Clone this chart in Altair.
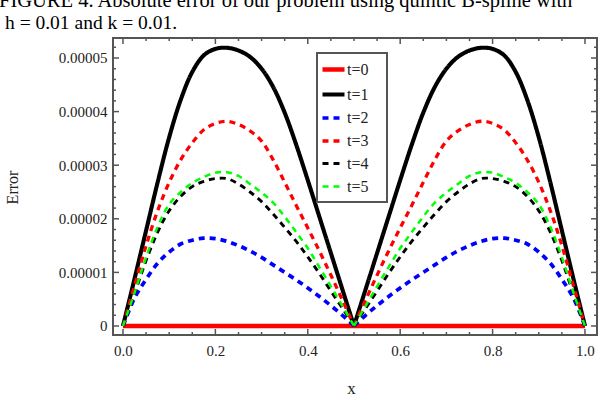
import altair as alt
import pandas as pd

# Caption above the figure
CAPTION_1 = "FIGURE 4.  Absolute error of our problem using quintic B-spline with"
CAPTION_2 = "h = 0.01 and k = 0.01."

# Grid of x positions (step 0.025)
x_pos = [0.0, 0.025, 0.05, 0.075, 0.1, 0.125, 0.15, 0.175, 0.2, 0.225, 0.25,
         0.275, 0.3, 0.325, 0.35, 0.375, 0.4, 0.425, 0.45, 0.475, 0.5,
         0.525, 0.55, 0.575, 0.6, 0.625, 0.65, 0.675, 0.7, 0.725, 0.75,
         0.775, 0.8, 0.825, 0.85, 0.875, 0.9, 0.925, 0.95, 0.975, 1.0]

# Absolute error, in units of 1e-5
err_t0 = [0.0] * 41
err_t1 = [0, 0.88, 1.78, 2.68, 3.52, 4.22, 4.74, 5.05, 5.17, 5.19, 5.14,
          5.02, 4.80, 4.46, 3.98, 3.38, 2.72, 2.04, 1.36, 0.68, 0,
          0.68, 1.36, 2.04, 2.72, 3.38, 3.98, 4.46, 4.80, 5.02, 5.14,
          5.19, 5.17, 5.05, 4.74, 4.22, 3.52, 2.68, 1.78, 0.88, 0]
err_t2 = [0, 0.52, 0.87, 1.17, 1.38, 1.53, 1.60, 1.64, 1.63, 1.58, 1.50,
          1.40, 1.28, 1.14, 1.00, 0.86, 0.71, 0.55, 0.38, 0.20, 0,
          0.20, 0.38, 0.55, 0.71, 0.86, 1.00, 1.14, 1.28, 1.40, 1.50,
          1.58, 1.63, 1.64, 1.60, 1.53, 1.38, 1.17, 0.87, 0.52, 0]
err_t3 = [0, 0.75, 1.50, 2.15, 2.68, 3.10, 3.42, 3.66, 3.78, 3.82, 3.76,
          3.64, 3.45, 3.10, 2.68, 2.25, 1.83, 1.40, 0.95, 0.48, 0,
          0.48, 0.95, 1.40, 1.83, 2.25, 2.68, 3.10, 3.45, 3.64, 3.76,
          3.82, 3.78, 3.66, 3.42, 3.10, 2.68, 2.15, 1.50, 0.75, 0]
err_t4 = [0, 0.60, 1.22, 1.75, 2.15, 2.42, 2.60, 2.70, 2.75, 2.75, 2.65,
          2.50, 2.32, 2.09, 1.84, 1.58, 1.29, 0.98, 0.65, 0.33, 0,
          0.33, 0.65, 0.98, 1.29, 1.58, 1.84, 2.09, 2.32, 2.50, 2.65,
          2.75, 2.75, 2.70, 2.60, 2.42, 2.15, 1.75, 1.22, 0.60, 0]
err_t5 = [0, 0.62, 1.28, 1.85, 2.27, 2.50, 2.67, 2.78, 2.86, 2.87, 2.80,
          2.65, 2.49, 2.30, 2.04, 1.75, 1.45, 1.10, 0.74, 0.37, 0,
          0.37, 0.74, 1.10, 1.45, 1.75, 2.04, 2.30, 2.49, 2.65, 2.80,
          2.87, 2.86, 2.78, 2.67, 2.50, 2.27, 1.85, 1.28, 0.62, 0]

series_names = ["t=0", "t=1", "t=2", "t=3", "t=4", "t=5"]
series_values = [err_t0, err_t1, err_t2, err_t3, err_t4, err_t5]
UNIT = 1e-5

# Tick positions for the frame
x_major = [0.0, 0.2, 0.4, 0.6, 0.8, 1.0]
x_minor = [0.05, 0.1, 0.15, 0.25, 0.3, 0.35, 0.45, 0.5, 0.55, 0.65, 0.7,
           0.75, 0.85, 0.9, 0.95]
y_major = [0.0, 1e-5, 2e-5, 3e-5, 4e-5, 5e-5]
y_minor = [0.2e-5, 0.4e-5, 0.6e-5, 0.8e-5, 1.2e-5, 1.4e-5, 1.6e-5, 1.8e-5,
           2.2e-5, 2.4e-5, 2.6e-5, 2.8e-5, 3.2e-5, 3.4e-5, 3.6e-5, 3.8e-5,
           4.2e-5, 4.4e-5, 4.6e-5, 4.8e-5, 5.2e-5]

# Long table; each curve is split into its two humps at x = 0.5 so the
# cusp there stays sharp while each hump is drawn as a smooth spline.
rows = []
for name, vals in zip(series_names, series_values):
    for xv, ev in zip(x_pos, vals):
        if xv <= 0.5:
            rows.append({"x": xv, "err": ev * UNIT, "series": name, "part": name + "L"})
        if xv >= 0.5:
            rows.append({"x": xv, "err": ev * UNIT, "series": name, "part": name + "R"})
df = pd.DataFrame(rows)

W, H = 484, 297
FRAME = "#555555"
SERIF = "Liberation Serif"

xscale = alt.Scale(domain=[-0.0216, 1.026], nice=False, zero=False)
yscale = alt.Scale(domain=[-0.168e-5, 5.373e-5], nice=False, zero=False)

legend = alt.Legend(
    orient="none", legendX=207, legendY=18, title=None,
    symbolType="stroke", symbolSize=484, symbolStrokeWidth=3,
    labelFont=SERIF, labelFontSize=16, labelColor="#222222",
    rowPadding=2, labelOffset=0, padding=0,
)

lines = alt.Chart(df).mark_line(interpolate="catmull-rom", strokeCap="butt").encode(
    x=alt.X("x:Q", scale=xscale,
            axis=alt.Axis(values=x_major, format=".1f", title="x",
                          titleX=W / 2 - 4, titleY=53, titleBaseline="middle")),
    y=alt.Y("err:Q", scale=yscale,
            axis=alt.Axis(values=y_major, title="Error",
                          labelExpr="datum.value == 0 ? '0' : format(datum.value, '.5f')",
                          titleX=-101, titleY=149, titleBaseline="middle",
                          titleAlign="center")),
    color=alt.Color("series:N",
                    scale=alt.Scale(domain=series_names,
                                    range=["#ff0000", "#000000", "#0000ff",
                                           "#ff0000", "#000000", "#00ff00"]),
                    legend=legend),
    strokeDash=alt.StrokeDash("series:N",
                              scale=alt.Scale(domain=series_names,
                                              range=[[1, 0], [1, 0], [6, 5],
                                                     [6, 5], [6, 5], [6, 5]]),
                              legend=legend),
    strokeWidth=alt.StrokeWidth("series:N",
                                scale=alt.Scale(domain=series_names,
                                                range=[4.5, 2.5, 3, 3, 3, 3]),
                                legend=None),
    detail="part:N",
)

# Inward frame ticks on all four sides
def xticks(vals, length):
    d = pd.DataFrame({"p": vals})
    bottom = alt.Chart(d).mark_rule(color=FRAME, strokeWidth=1.5).encode(
        x=alt.X("p:Q", scale=xscale), y=alt.value(H), y2=alt.value(H - length))
    top = alt.Chart(d).mark_rule(color=FRAME, strokeWidth=1.5).encode(
        x=alt.X("p:Q", scale=xscale), y=alt.value(0), y2=alt.value(length))
    return [bottom, top]

def yticks(vals, length):
    d = pd.DataFrame({"p": vals})
    left = alt.Chart(d).mark_rule(color=FRAME, strokeWidth=1.5).encode(
        y=alt.Y("p:Q", scale=yscale), x=alt.value(0), x2=alt.value(length))
    right = alt.Chart(d).mark_rule(color=FRAME, strokeWidth=1.5).encode(
        y=alt.Y("p:Q", scale=yscale), x=alt.value(W), x2=alt.value(W - length))
    return [left, right]

tick_layers = (xticks(x_major, 6) + xticks(x_minor, 3)
               + yticks(y_major, 6) + yticks(y_minor, 3))

one = pd.DataFrame({"a": [0]})
legend_box = alt.Chart(one).mark_rect(filled=False, stroke=FRAME, strokeWidth=2).encode(
    x=alt.value(204), x2=alt.value(274), y=alt.value(15), y2=alt.value(164))

cap1 = alt.Chart(pd.DataFrame({"t": [CAPTION_1]})).mark_text(
    align="left", baseline="alphabetic", font=SERIF, fontSize=20.5, color="black"
).encode(x=alt.value(-114), y=alt.value(-31), text="t:N")
cap2 = alt.Chart(pd.DataFrame({"t": [CAPTION_2]})).mark_text(
    align="left", baseline="alphabetic", font=SERIF, fontSize=19.5, color="black"
).encode(x=alt.value(-108), y=alt.value(-9), text="t:N")

chart = alt.layer(lines, *tick_layers, legend_box, cap1, cap2).properties(
    width=W, height=H,
    autosize=alt.AutoSizeParams(type="none"),
    padding={"left": 113, "top": 38, "right": 15, "bottom": 69},
).configure_view(
    stroke=FRAME, strokeWidth=2
).configure_axis(
    domain=False, grid=False, ticks=False,
    labelFont=SERIF, labelFontSize=15, labelColor="#222222",
    titleFont=SERIF, titleFontSize=16, titleFontWeight="normal", titleColor="#222222",
).configure_axisX(
    labelPadding=8, titleFontSize=17
).configure_axisY(
    labelPadding=6
)

chart.save("out.html", embed_options={"renderer": "svg", "actions": False})
